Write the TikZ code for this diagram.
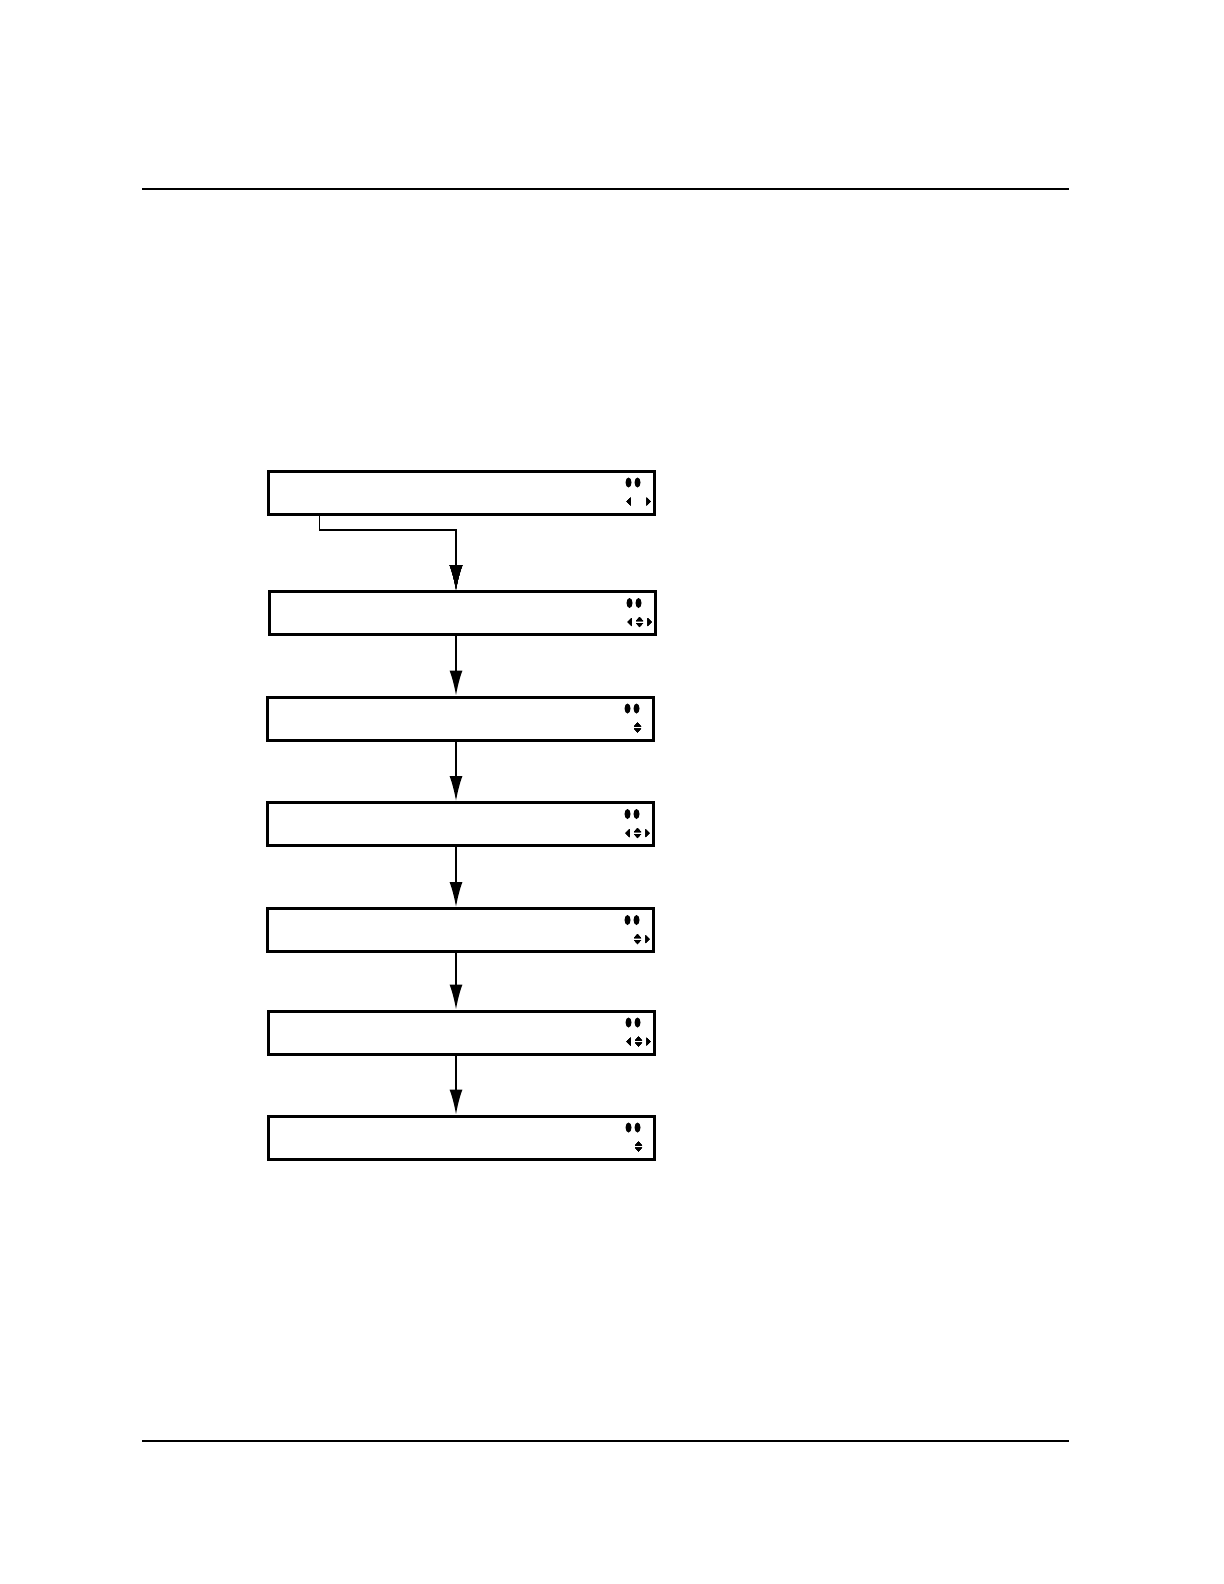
\documentclass[tikz,border=0pt]{standalone}
\usetikzlibrary{arrows.meta}
\tikzset{
  screen/.style={draw,line width=1.5pt,minimum width=193pt,minimum height=21.5pt,inner sep=0pt},
  flow/.style={line width=0.8pt,-{Latex[length=12.5pt,width=6.5pt]}},
  rule/.style={line width=0.6pt}
}
% key symbols in the right corner of a screen box
\newcommand{\dotpair}[1]{%
  \fill ([shift={(-27,13)}]#1.north east) ellipse [x radius=1.5pt,y radius=2.5pt];
  \fill ([shift={(-18,13)}]#1.north east) ellipse [x radius=1.5pt,y radius=2.5pt];}
\newcommand{\keyleft}[1]{%
  \fill ([shift={(-29,32)}]#1.north east) -- ++(4,-4) -- ++(0,8) -- cycle;}
\newcommand{\keyright}[1]{%
  \fill ([shift={(-5,32)}]#1.north east) -- ++(-4,-4) -- ++(0,8) -- cycle;}
\newcommand{\keyupdown}[1]{%
  \fill ([shift={(-20.5,31)}]#1.north east) -- ++(7,0) -- ++(-3.5,-4) -- cycle;
  \fill ([shift={(-20.5,33)}]#1.north east) -- ++(7,0) -- ++(-3.5,4) -- cycle;}
\begin{document}
\begin{tikzpicture}[x=0.5pt,y=-0.5pt]
  \useasboundingbox (0,0) rectangle (1224,1584);
  \draw[rule] (142,189) -- (1069,189);
  \draw[rule] (142,1441) -- (1069,1441);
  \coordinate (spine) at (456,0);
  \node[screen] (s1) at (461,492.5) {};
  \node[screen] (s2) at (462,613) {};
  \node[screen] (s3) at (460,718.5) {};
  \node[screen] (s4) at (460,824) {};
  \node[screen] (s5) at (460,930) {};
  \node[screen] (s6) at (461,1032.5) {};
  \node[screen] (s7) at (461,1137.5) {};
  \foreach \s in {s1,s2,s3,s4,s5,s6,s7}
    \dotpair{\s}
  \keyleft{s1} \keyright{s1}
  \keyleft{s2} \keyupdown{s2} \keyright{s2}
  \keyupdown{s3}
  \keyleft{s4} \keyupdown{s4} \keyright{s4}
  \keyupdown{s5} \keyright{s5}
  \keyleft{s6} \keyupdown{s6} \keyright{s6}
  \keyupdown{s7}
  \draw[flow] ([xshift=26.5pt]s1.south west) |- ([yshift=30pt]s2.north -| spine) -- (s2.north -| spine);
  \draw[flow] (s2.south -| spine) -- (s3.north -| spine);
  \draw[flow] (s3.south -| spine) -- (s4.north -| spine);
  \draw[flow] (s4.south -| spine) -- (s5.north -| spine);
  \draw[flow] (s5.south -| spine) -- (s6.north -| spine);
  \draw[flow] (s6.south -| spine) -- (s7.north -| spine);
\end{tikzpicture}
\end{document}
